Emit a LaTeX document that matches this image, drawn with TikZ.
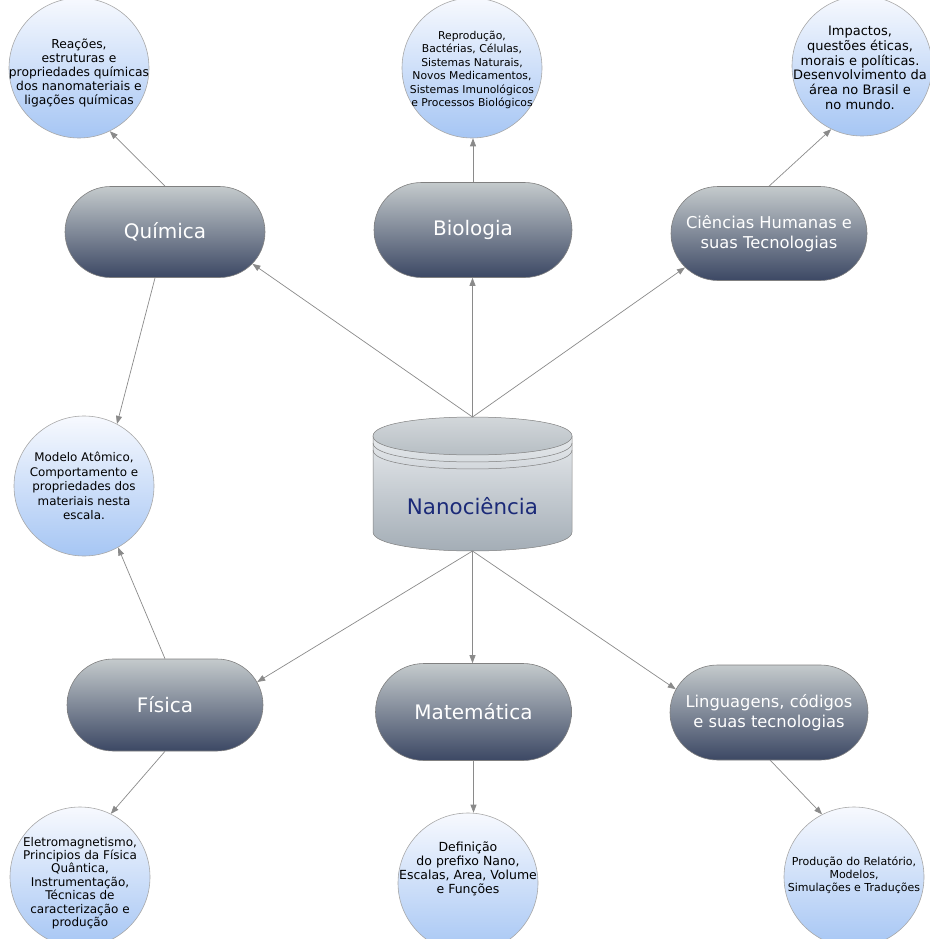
\documentclass[tikz,border=0pt]{standalone}
\usepackage{fontspec}
\setmainfont{DejaVu Sans}
\usetikzlibrary{shapes.misc,arrows.meta}
\definecolor{bubbletop}{HTML}{F7F9FE}
\definecolor{bubblebot}{HTML}{A6C6F4}
\definecolor{pilltop}{HTML}{C4CACC}
\definecolor{pillbot}{HTML}{3C4864}
\definecolor{linkgray}{HTML}{8A8A8A}
\definecolor{edgegray}{HTML}{A8A8A8}
\definecolor{cyltop}{HTML}{E6E9EC}
\definecolor{cylbot}{HTML}{A0AAB3}
\definecolor{ellitop}{HTML}{D7DBDE}
\definecolor{ellibot}{HTML}{B2BAC0}
\definecolor{navytext}{HTML}{1B2A78}
\begin{document}
\begin{tikzpicture}[x=1pt,y=-1pt,
  bubble/.style={circle, draw=edgegray, line width=0.6pt, top color=bubbletop, bottom color=bubblebot, minimum size=140pt, inner sep=0pt},
  bubbletext/.style={align=center, inner sep=0pt},
  pill/.style={rounded rectangle, draw=gray, line width=0.6pt, top color=pilltop, bottom color=pillbot, minimum width=198pt, minimum height=94pt, inner sep=0pt, text=white, align=center},
  pillbig/.style={font=\fontsize{20}{24}\selectfont},
  pillsmall/.style={font=\fontsize{16.3}{20.3}\selectfont},
  link/.style={draw=linkgray, line width=0.7pt, -{Triangle[length=8pt,width=6pt]}}
]
\useasboundingbox (0,0) rectangle (929,939);

% top circles
\node[bubble] (creac) at (79,68) {};
\node[bubbletext, font=\fontsize{12.3}{14}\selectfont] (creact) at (79,73) {Reações,\\estruturas e\\propriedades químicas\\dos nanomateriais e\\ligações químicas};
\node[bubble] (cbio) at (472,68) {};
\node[bubbletext, font=\fontsize{10.8}{13.4}\selectfont] (cbiot) at (472,70) {Reprodução,\\Bactérias, Células,\\Sistemas Naturais,\\Novos Medicamentos,\\Sistemas Imunológicos\\e Processos Biológicos};
\node[bubble] (cch) at (862,66) {};
\node[bubbletext, font=\fontsize{13}{14.7}\selectfont] (ccht) at (860,68) {Impactos,\\questões éticas,\\morais e políticas.\\Desenvolvimento da\\área no Brasil e\\no mundo.};

% middle-left circle
\node[bubble] (cmod) at (84,486) {};
\node[bubbletext, font=\fontsize{11.9}{14.6}\selectfont] (cmodt) at (84,486) {Modelo Atômico,\\Comportamento e\\propriedades dos\\materiais nesta\\escala.};

% bottom circles
\node[bubble] (cele) at (80,877) {};
\node[bubbletext, font=\fontsize{12}{13.4}\selectfont] (celet) at (80,883) {Eletromagnetismo,\\Principios da Física\\Quântica,\\Instrumentação,\\Técnicas de\\caracterização e\\produção};
\node[bubble] (cdef) at (468,883) {};
\node[bubbletext, font=\fontsize{12.5}{13.9}\selectfont] (cdeft) at (468,869) {Definição\\do prefixo Nano,\\Escalas, Area, Volume\\e Funções};
\node[bubble] (cpro) at (854,877) {};
\node[bubbletext, font=\fontsize{11}{13.3}\selectfont] (cprot) at (854,875) {Produção do Relatório,\\Modelos,\\Simulações e Traduções};

% pills
\node[pill, pillbig, minimum width=200pt, minimum height=91pt] (qui) at (165,232) {Química};
\node[pill, pillbig, minimum height=95pt] (bio) at (473,230) {Biologia};
\node[pill, pillsmall, minimum width=196pt] (ch) at (769,233.5) {Ciências Humanas e\\suas Tecnologias};
\node[pill, pillbig, minimum width=196pt, minimum height=92pt] (fis) at (165,705) {Física};
\node[pill, pillbig, minimum width=196pt, minimum height=97pt] (mat) at (473.5,712) {Matemática};
\node[pill, pillsmall, minimum height=95pt] (ling) at (769,712.5) {Linguagens, códigos\\e suas tecnologias};

% cylinder
\shade[top color=cyltop, bottom color=cylbot, draw=gray, line width=0.5pt]
  (373,436) -- (373,532) .. controls (373,557.3) and (572,557.3) .. (572,532) -- (572,436) -- cycle;
\draw[gray, line width=0.5pt] (373,450) .. controls (373,475.3) and (572,475.3) .. (572,450);
\draw[gray, line width=0.5pt] (373,443) .. controls (373,468.3) and (572,468.3) .. (572,443);
\shade[top color=ellitop, bottom color=ellibot, draw=gray, line width=0.5pt]
  (373,436) .. controls (373,410.7) and (572,410.7) .. (572,436)
  .. controls (572,461.3) and (373,461.3) .. (373,436) -- cycle;
\coordinate (nanotop) at (472.5,417);
\coordinate (nanobot) at (472.5,551);
\node[text=navytext, font=\fontsize{21.4}{25}\selectfont, inner sep=0pt] (nano) at (472.5,506) {Nanociência};

% links from Nanociência
\draw[link] (nanotop) -- (qui.-20);
\draw[link] (nanotop) -- (nanotop |- bio.south);
\draw[link] (nanotop) -- (ch.202);
\draw[link] (nanobot) -- (fis.14);
\draw[link] (nanobot) -- (nanobot |- mat.north);
\draw[link] (nanobot) -- (ling.166);

% links to circles
\coordinate (quis) at (155,278);
\coordinate (lings) at (770,760);
\draw[link] (qui.north) -- (creac.-64);
\draw[link] (bio.north) -- (bio.north |- cbio.south);
\draw[link] (ch.north) -- (cch.-116);
\draw[link] (quis) -- (cmod.62);
\draw[link] (fis.north) -- (cmod.-61);
\draw[link] (fis.south) -- (cele.64);
\draw[link] (mat.south) -- (mat.south |- cdef.north);
\draw[link] (lings) -- (cpro.117);
\end{tikzpicture}
\end{document}
